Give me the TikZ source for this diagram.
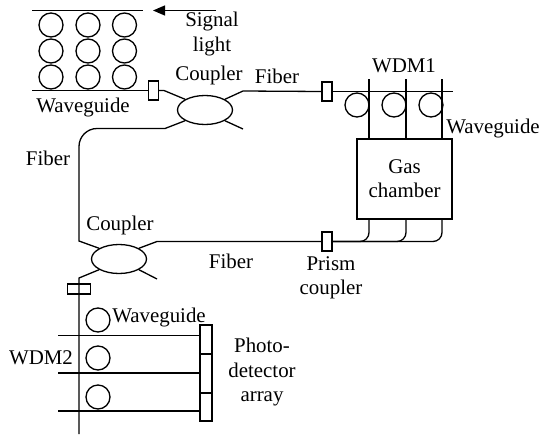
\documentclass[tikz,border=0pt]{standalone}
\usepackage{fontspec}
\setmainfont{Liberation Serif}
\usetikzlibrary{shapes.geometric,arrows.meta}
\begin{document}
\begin{tikzpicture}[x=1pt, y=-1pt, line width=1.3pt,
  every node/.style={font=\fontsize{20.9}{24.2}\selectfont, align=center, inner sep=0pt},
  ring/.style={circle, draw, minimum size=24pt},
  coupler/.style={ellipse, draw, minimum width=55pt, minimum height=29pt},
  prism/.style={rectangle, draw, minimum width=10pt, minimum height=19pt},
  cell/.style={rectangle, draw, minimum width=12pt}]
\useasboundingbox (0,0) rectangle (541,434);
\coordinate (ta) at (32,10.5);
\coordinate (tb) at (143,10.5);
\coordinate (ga) at (32,90.5);
\coordinate (sa) at (216,10.5);
\coordinate (sb) at (153,10.5);
\draw (ta)--(tb);
\draw[-{Triangle[length=12pt,width=10pt]}] (sa)--(sb);
\foreach \row/\yy in {a/25,b/51,c/77}
  \foreach \col/\xx in {a/51,b/88,c/124.5}
    \node[ring] (r\row\col) at (\xx,\yy) {};
\node[prism] (pa) at (153.5,90.5) {};
\node[coupler] (ca) at (205,110) {};
\node[prism] (pb) at (327,91.5) {};
\node[coupler] (cb) at (119,259) {};
\node[prism] (pc) at (327,241.5) {};
\node[rectangle, draw, minimum width=23pt, minimum height=10pt] (pd) at (79,289) {};
\draw (ga)--(pa.west);
\coordinate (a1) at (164,90.5);
\coordinate (a2) at (243,91);
\coordinate (a3) at (243,129);
\coordinate (a4) at (165,128.5);
\coordinate (a5) at (79,128.5);
\coordinate (a6) at (79,241);
\coordinate (wdmend) at (453,91.5);
\draw (pa.east)--(a1)--(ca.north west);
\draw (ca.north east)--(a2)--(pb.west);
\draw (ca.south east)--(a3);
\draw (ca.south west)--(a4) [rounded corners=18pt] --(a5) [sharp corners] --(a6)--(cb.north west);
\draw (pb.east)--(wdmend);
\node[draw, rectangle, minimum width=95pt, minimum height=80pt] (gas) at (404.5,179) {Gas\\chamber};
\foreach \n/\xx/\cx in {a/369/357,b/406/394,c/442/431} {
  \coordinate (wt\n) at (\xx,79);
  \coordinate (wb\n) at (\xx,139);
  \coordinate (gb\n) at (\xx,219);
  \node[ring] (w\n) at (\cx,105) {};
  \draw (wt\n)--(wb\n);
  \draw[rounded corners=9pt] (gb\n)|-(pc.east);
}
\coordinate (b1) at (157,241.5);
\coordinate (b2) at (157,279);
\coordinate (b3) at (79,278);
\coordinate (b4) at (79,434);
\draw (cb.north east)--(b1)--(pc.west);
\draw (cb.south east)--(b2);
\draw (cb.south west)--(b3)--(b4);
\node[cell, minimum height=29pt] (da) at (206,339.5) {};
\node[cell, minimum height=39pt] (db) at (206,373.5) {};
\node[cell, minimum height=28pt] (dc) at (206,407) {};
\node[ring] (ra) at (98,320) {};
\node[ring] (rb) at (98,358) {};
\node[ring] (rc) at (98,397) {};
\coordinate (la) at (58,335.5);
\coordinate (lb) at (58,373);
\coordinate (lc) at (58,411);
\draw (la)--(da.west |- la);
\draw (lb)--(db.west |- lb);
\draw (lc)--(dc.west |- lc);
\node (signal) at (212,34) {Signal\\light};
\node (cpa) at (209,75) {Coupler};
\node (fba) at (277,76) {Fiber};
\node (wdma) at (404,66) {WDM1};
\node (wga) at (493,129) {Waveguide};
\node (wgb) at (83,108) {Waveguide};
\node (fbb) at (48,158) {Fiber};
\node (cpb) at (120,225) {Coupler};
\node (fbc) at (231,261) {Fiber};
\node (pcl) at (331,278) {Prism\\coupler};
\node (wgc) at (159,317) {Waveguide};
\node (wdmb) at (41,358) {WDM2};
\node (pda) at (262,372) {Photo-\\detector\\array};
\end{tikzpicture}
\end{document}
